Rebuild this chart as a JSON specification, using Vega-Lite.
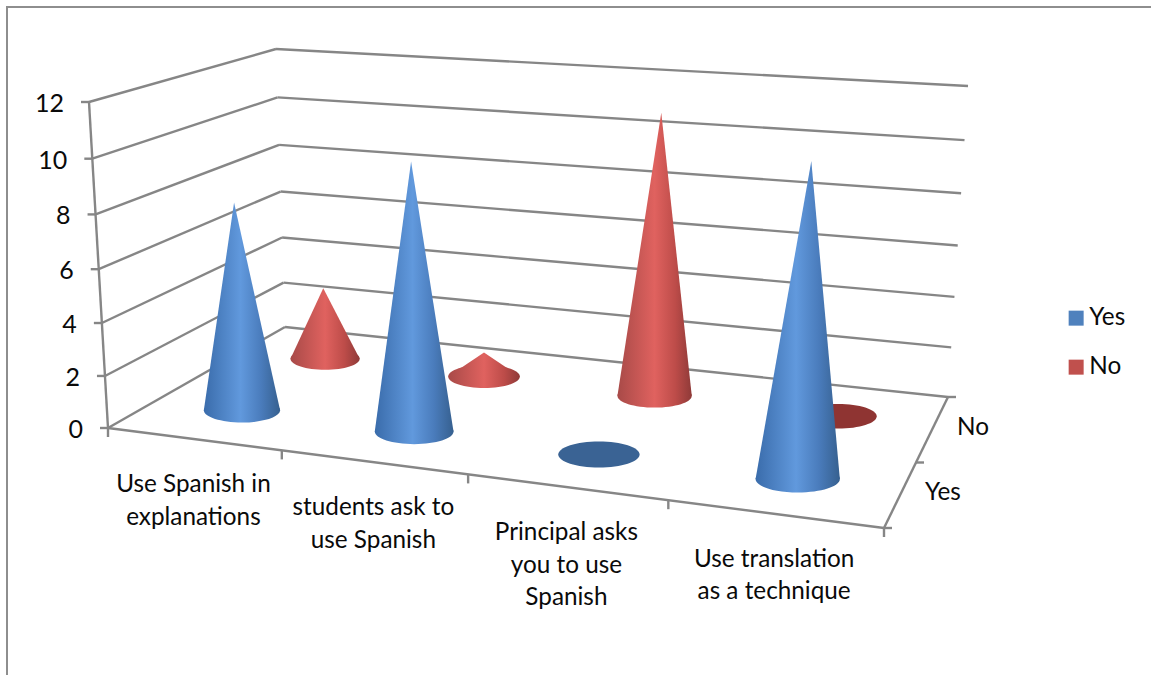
{
"$schema":"https://vega.github.io/schema/vega-lite/v6.json",
"width":1151,"height":675,"padding":0,"autosize":{"type":"none"},"background":"white",
"config":{"view":{"stroke":null}},
"datasets":{
"chart":[
{"category":"Use Spanish in\nexplanations","series":"Yes","value":8},
{"category":"Use Spanish in\nexplanations","series":"No","value":3},
{"category":"students ask to\nuse Spanish","series":"Yes","value":10},
{"category":"students ask to\nuse Spanish","series":"No","value":1},
{"category":"Principal asks\nyou to use\nSpanish","series":"Yes","value":0},
{"category":"Principal asks\nyou to use\nSpanish","series":"No","value":11},
{"category":"Use translation\nas a technique","series":"Yes","value":11},
{"category":"Use translation\nas a technique","series":"No","value":0}
],
"ticks":[{"value":0},{"value":2},{"value":4},{"value":6},{"value":8},{"value":10},{"value":12}]
},
"encoding":{
"x":{"field":"px","type":"quantitative","scale":{"domain":[0,1151],"nice":false,"zero":false},"axis":null,"stack":null},
"y":{"field":"py","type":"quantitative","scale":{"domain":[675,0],"nice":false,"zero":false},"axis":null,"stack":null}
},
"layer":[
{"data":{"values":[
 {"edge":"frame top","x0":6,"y0":7,"x1":1151,"y1":7},
 {"edge":"frame left","x0":7,"y0":6,"x1":7,"y1":675}
 ]},
 "transform":[{"calculate":"datum.x0","as":"px"},{"calculate":"datum.y0","as":"py"}],
 "mark":{"type":"rule","color":"#8e8e8e","strokeWidth":2},
 "encoding":{"x2":{"field":"x1"},"y2":{"field":"y1"}}},
{"data":{"name":"ticks"},
 "transform":[
 {"calculate":"datum.value/12","as":"t0"},
 {"calculate":"datum.t0*0.95/(1-0.05*datum.t0)","as":"t"},
 {"calculate":"(1-datum.t)*108+datum.t*89","as":"wx"},
 {"calculate":"(1-datum.t)*428+datum.t*102","as":"wy"},
 {"calculate":"(1-datum.t)*285+datum.t*276","as":"bx"},
 {"calculate":"(1-datum.t)*327+datum.t*49","as":"by"},
 {"calculate":"(1-datum.t)*948+datum.t*968","as":"rx"},
 {"calculate":"(1-datum.t)*397+datum.t*86","as":"ry"}
 ],
 "layer":[
 {"transform":[{"calculate":"datum.wx","as":"px"},{"calculate":"datum.wy","as":"py"}],
  "mark":{"type":"rule","color":"#868686","strokeWidth":2.4},
  "encoding":{"x2":{"field":"bx"},"y2":{"field":"by"}}},
 {"transform":[{"calculate":"datum.bx","as":"px"},{"calculate":"datum.by","as":"py"}],
  "mark":{"type":"rule","color":"#868686","strokeWidth":2.4},
  "encoding":{"x2":{"field":"rx"},"y2":{"field":"ry"}}},
 {"transform":[{"calculate":"datum.wx-8","as":"px"},{"calculate":"datum.wy","as":"py"}],
  "mark":{"type":"rule","color":"#868686","strokeWidth":2.4},
  "encoding":{"x2":{"field":"wx"}}},
 {"transform":[{"calculate":"datum.wx-25","as":"px"},{"calculate":"datum.wy+2","as":"py"}],
  "mark":{"type":"text","font":"Lato","fontSize":25,"align":"right","baseline":"middle","color":"#0a0a0a"},
  "encoding":{"text":{"field":"value","type":"nominal"}}}
 ]},
{"data":{"values":[
 {"edge":"value axis","x0":108,"y0":428,"x1":89,"y1":102},
 {"edge":"front floor","x0":108,"y0":428,"x1":884,"y1":528},
 {"edge":"side floor","x0":884,"y0":528,"x1":948,"y1":397}
 ]},
 "transform":[{"calculate":"datum.x0","as":"px"},{"calculate":"datum.y0","as":"py"}],
 "mark":{"type":"rule","color":"#868686","strokeWidth":2.4},
 "encoding":{"x2":{"field":"x1"},"y2":{"field":"y1"}}},
{"data":{"values":[{"k":0},{"k":1},{"k":2},{"k":3},{"k":4}]},
 "transform":[
 {"calculate":"datum.k/4","as":"u"},
 {"calculate":"datum.u*0.866/(1-0.134*datum.u)","as":"f"},
 {"calculate":"108+776*datum.f","as":"px"},
 {"calculate":"428+100*datum.f","as":"py"},
 {"calculate":"datum.py+9","as":"py2"}],
 "mark":{"type":"rule","color":"#868686","strokeWidth":2.4},
 "encoding":{"y2":{"field":"py2"}}},
{"data":{"values":[{"d":0},{"d":0.5},{"d":1}]},
 "transform":[
 {"calculate":"884+64*datum.d","as":"px"},
 {"calculate":"528-131*datum.d","as":"py"},
 {"calculate":"datum.px+8","as":"px2"}],
 "mark":{"type":"rule","color":"#868686","strokeWidth":2.4},
 "encoding":{"x2":{"field":"px2"}}},
{"data":{"name":"chart"},
 "transform":[
 {"calculate":"indexof(['Use Spanish in\\nexplanations','students ask to\\nuse Spanish','Principal asks\\nyou to use\\nSpanish','Use translation\\nas a technique'],datum.category)","as":"i"},
 {"calculate":"(datum.i+0.5)/4","as":"u"},
 {"calculate":"datum.u*0.866/(1-0.134*datum.u)","as":"f"},
 {"calculate":"datum.series=='Yes'?0.295:0.80","as":"dx"},
 {"calculate":"datum.series=='Yes'?0.275:0.77","as":"dy"},
 {"calculate":"(1-datum.dx)*(108+776*datum.f)+datum.dx*(285+663*datum.f)","as":"bx"},
 {"calculate":"(1-datum.dy)*(428+100*datum.f)+datum.dy*(327+70*datum.f)","as":"by"},
 {"calculate":"(1-datum.dx)*(89+815*datum.f)+datum.dx*(276+692*datum.f)","as":"tx"},
 {"calculate":"(1-datum.dy)*(102+55.5*datum.f)+datum.dy*(49+37*datum.f)","as":"ty"},
 {"calculate":"datum.value/12","as":"t0"},
 {"calculate":"datum.t0*0.95/(1-0.05*datum.t0)","as":"t"},
 {"calculate":"datum.bx+datum.t*(datum.tx-datum.bx)","as":"ax"},
 {"calculate":"datum.by+datum.t*(datum.ty-datum.by)","as":"ay"},
 {"calculate":"75+10.7*datum.f-14*(datum.dx-0.3)","as":"w"},
 {"calculate":"datum.w*datum.w","as":"s"},
 {"calculate":"datum.bx","as":"px"},
 {"calculate":"datum.by","as":"py"}
 ],
 "layer":[
 {"transform":[{"filter":"datum.series=='No' && datum.value==0"}],
  "mark":{"type":"point","filled":true,"opacity":1,"color":"#8f3432","shape":"M-1,0A1,0.32 0 1,0 1,0A1,0.32 0 1,0 -1,0Z"},
  "encoding":{"size":{"field":"s","type":"quantitative","scale":null,"legend":null}}},
 {"transform":[{"filter":"datum.series=='No' && datum.value>0"}],
  "mark":{"type":"point","filled":true,"opacity":1,"shape":"M-1,0A1,0.32 0 1,0 1,0A1,0.32 0 1,0 -1,0Z",
   "color":{"x1":0,"y1":0,"x2":1,"y2":0,"gradient":"linear","stops":[{"offset":0,"color":"#a84a48"},{"offset":0.5,"color":"#e0625f"},{"offset":0.78,"color":"#bd4c49"},{"offset":1,"color":"#8f3a38"}]}},
  "encoding":{"size":{"field":"s","type":"quantitative","scale":null,"legend":null}}},
 {"transform":[{"filter":"datum.series=='No' && datum.value>0"},
   {"calculate":"[0,1]","as":"e"},{"flatten":["e"]},
   {"calculate":"datum.e==0?datum.bx-datum.w/2:datum.ax","as":"px"},
   {"calculate":"datum.e==0?datum.bx+datum.w/2:datum.ax","as":"px2"},
   {"calculate":"datum.e==0?datum.by:datum.ay","as":"py"}],
  "mark":{"type":"area","orient":"horizontal",
   "color":{"x1":0,"y1":0,"x2":1,"y2":0,"gradient":"linear","stops":[{"offset":0,"color":"#a84a48"},{"offset":0.5,"color":"#e0625f"},{"offset":0.78,"color":"#bd4c49"},{"offset":1,"color":"#8f3a38"}]}},
  "encoding":{"x2":{"field":"px2"},"detail":{"field":"category"}}},
 {"transform":[{"filter":"datum.series=='Yes' && datum.value==0"}],
  "mark":{"type":"point","filled":true,"opacity":1,"color":"#3a6394","shape":"M-1,0A1,0.32 0 1,0 1,0A1,0.32 0 1,0 -1,0Z"},
  "encoding":{"size":{"field":"s","type":"quantitative","scale":null,"legend":null}}},
 {"transform":[{"filter":"datum.series=='Yes' && datum.value>0"}],
  "mark":{"type":"point","filled":true,"opacity":1,"shape":"M-1,0A1,0.32 0 1,0 1,0A1,0.32 0 1,0 -1,0Z",
   "color":{"x1":0,"y1":0,"x2":1,"y2":0,"gradient":"linear","stops":[{"offset":0,"color":"#3a6cab"},{"offset":0.48,"color":"#6199dd"},{"offset":0.75,"color":"#4a7cbc"},{"offset":1,"color":"#36608f"}]}},
  "encoding":{"size":{"field":"s","type":"quantitative","scale":null,"legend":null}}},
 {"transform":[{"filter":"datum.series=='Yes' && datum.value>0"},
   {"calculate":"[0,1]","as":"e"},{"flatten":["e"]},
   {"calculate":"datum.e==0?datum.bx-datum.w/2:datum.ax","as":"px"},
   {"calculate":"datum.e==0?datum.bx+datum.w/2:datum.ax","as":"px2"},
   {"calculate":"datum.e==0?datum.by:datum.ay","as":"py"}],
  "mark":{"type":"area","orient":"horizontal",
   "color":{"x1":0,"y1":0,"x2":1,"y2":0,"gradient":"linear","stops":[{"offset":0,"color":"#3a6cab"},{"offset":0.48,"color":"#6199dd"},{"offset":0.75,"color":"#4a7cbc"},{"offset":1,"color":"#36608f"}]}},
  "encoding":{"x2":{"field":"px2"},"detail":{"field":"category"}}},
 {"transform":[{"filter":"datum.series=='Yes'"},
   {"calculate":"108+776*datum.f","as":"px"},
   {"calculate":"428+100*datum.f+34","as":"py"}],
  "mark":{"type":"text","font":"Lato","fontSize":24.3,"align":"center","baseline":"top","lineBreak":"\n","lineHeight":32.5,"color":"#0a0a0a"},
  "encoding":{"text":{"field":"category","type":"nominal"}}}
 ]},
{"data":{"values":[{"series":"Yes","d":0.25},{"series":"No","d":0.75}]},
 "transform":[{"calculate":"884+64*datum.d+25","as":"px"},{"calculate":"528-131*datum.d-2","as":"py"}],
 "mark":{"type":"text","font":"Lato","fontSize":24.3,"align":"left","baseline":"middle","color":"#0a0a0a"},
 "encoding":{"text":{"field":"series","type":"nominal"}}},
{"data":{"name":"chart"},
 "mark":{"type":"square","size":0},
 "encoding":{"x":{"datum":0},"y":{"datum":0},
  "color":{"field":"series","type":"nominal","scale":{"domain":["Yes","No"],"range":["#4f81bd","#c0504d"]},
   "legend":{"orient":"none","legendX":1064,"legendY":306,"title":null,"symbolType":"square","symbolSize":225,"symbolOpacity":1,"symbolStrokeWidth":0,"labelFont":"Lato","labelFontSize":24.3,"labelColor":"#0a0a0a","labelOffset":1,"rowPadding":24}}}}
]
}
